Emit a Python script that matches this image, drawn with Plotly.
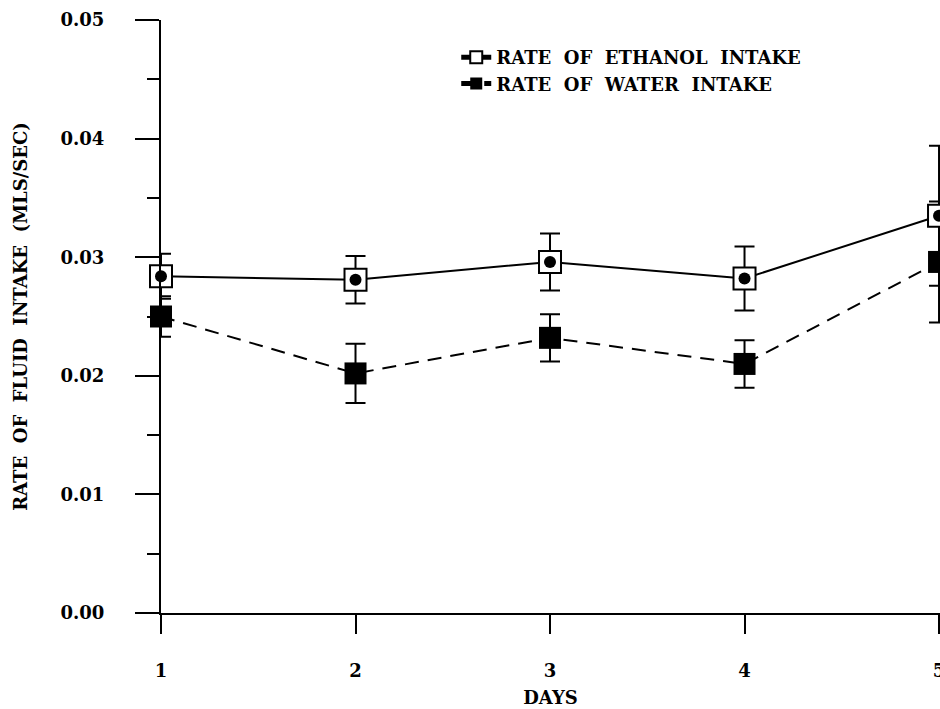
import plotly.graph_objects as go

days = [1, 2, 3, 4, 5]
ethanol = [0.0284, 0.0281, 0.0296, 0.0282, 0.0335]
ethanol_err = [0.0019, 0.0020, 0.0024, 0.0027, 0.0059]
water = [0.0250, 0.0202, 0.0232, 0.0210, 0.0296]
water_err = [0.0017, 0.0025, 0.0020, 0.0020, 0.0051]

y_ticks = [0.00, 0.01, 0.02, 0.03, 0.04, 0.05]
y_ticklabels = ["0.00", "0.01", "0.02", "0.03", "0.04", "0.05"]
x_ticklabels = ["1", "2", "3", "4", "5"]

FONT = "DejaVu Serif"

fig = go.Figure()

fig.add_trace(go.Scatter(
    x=days, y=water, mode="lines+markers",
    name="RATE\u00a0 OF\u00a0 WATER\u00a0 INTAKE",
    line=dict(color="black", width=2, dash="14px,9px"),
    marker=dict(symbol="square", size=22, color="black"),
    error_y=dict(type="data", array=water_err, visible=True,
                 color="black", thickness=2, width=10),
    cliponaxis=False, legendrank=2,
))

fig.add_trace(go.Scatter(
    x=days, y=ethanol, mode="lines+markers",
    name="RATE\u00a0 OF\u00a0 ETHANOL\u00a0 INTAKE",
    line=dict(color="black", width=2),
    marker=dict(symbol="square", size=22, color="white",
                line=dict(color="black", width=2)),
    error_y=dict(type="data", array=ethanol_err, visible=True,
                 color="black", thickness=2, width=10),
    cliponaxis=False, legendrank=1,
))

fig.add_trace(go.Scatter(
    x=days, y=ethanol, mode="markers", showlegend=False,
    marker=dict(symbol="circle", size=12, color="black"),
    cliponaxis=False, hoverinfo="skip",
))

fig.update_layout(
    width=940, height=709,
    margin=dict(l=161, r=0, t=20, b=96, autoexpand=False),
    paper_bgcolor="white", plot_bgcolor="white",
    font=dict(family=FONT, color="black", size=18, weight="bold"),
    showlegend=True,
    legend=dict(x=0.379, y=0.968, xanchor="left", yanchor="top",
                bgcolor="rgba(0,0,0,0)", itemsizing="constant",
                font=dict(family=FONT, size=18, color="black", weight="bold"),
                tracegroupgap=0),
)

fig.update_xaxes(
    range=[1, 5.005], tickvals=days, ticktext=x_ticklabels,
    automargin=False,
    showline=True, linecolor="black", linewidth=2,
    ticks="outside", ticklen=19, tickwidth=2, tickcolor="black",
    showgrid=False, zeroline=False, ticklabelstandoff=21,
    ticklabeloverflow="allow",
    tickfont=dict(family=FONT, size=18, weight="bold"),
    title=dict(text="DAYS", standoff=12,
               font=dict(family=FONT, size=18, weight="bold")),
)

fig.update_yaxes(
    range=[0, 0.05], tickvals=y_ticks, ticktext=y_ticklabels,
    automargin=False,
    showline=True, linecolor="black", linewidth=2,
    ticks="outside", ticklen=24, tickwidth=2, tickcolor="black",
    minor=dict(dtick=0.005, ticks="outside", ticklen=12, tickwidth=2, tickcolor="black"),
    showgrid=False, zeroline=False, ticklabelstandoff=27,
    tickfont=dict(family=FONT, size=18, weight="bold"),
    title=dict(text="RATE\u00a0 OF\u00a0 FLUID\u00a0 INTAKE\u00a0 (MLS/SEC)", standoff=28,
               font=dict(family=FONT, size=18, weight="bold")),
)

fig.write_html("out.html")
